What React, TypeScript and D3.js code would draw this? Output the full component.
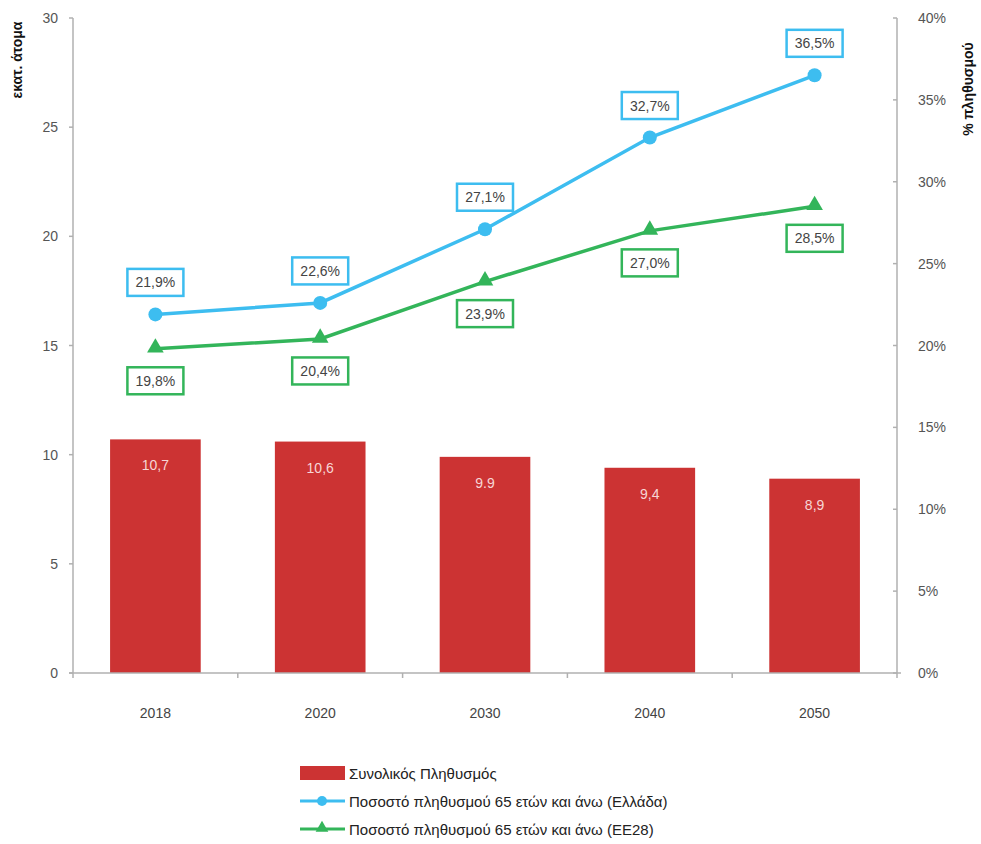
import React from "react";
import * as d3 from "d3";

const years = ["2018", "2020", "2030", "2040", "2050"];
const population = [10.7, 10.6, 9.9, 9.4, 8.9];
const populationLabels = ["10,7", "10,6", "9.9", "9,4", "8,9"];
const greece = [21.9, 22.6, 27.1, 32.7, 36.5];
const greeceLabels = ["21,9%", "22,6%", "27,1%", "32,7%", "36,5%"];
const eu28 = [19.8, 20.4, 23.9, 27.0, 28.5];
const eu28Labels = ["19,8%", "20,4%", "23,9%", "27,0%", "28,5%"];
const leftTicks = [0, 5, 10, 15, 20, 25, 30];
const rightTicks = [0, 5, 10, 15, 20, 25, 30, 35, 40];
const legendLabels = [
  "Συνολικός Πληθυσμός",
  "Ποσοστό πληθυσμού 65 ετών και άνω (Ελλάδα)",
  "Ποσοστό πληθυσμού 65 ετών και άνω (ΕΕ28)",
];

const W = 981;
const H = 844;
const M = { left: 73, right: 897, top: 18, bottom: 673 };
const FONT = "'Liberation Sans', Arial, sans-serif";
const RED = "#cc3333";
const BLUE = "#3dbdf0";
const GREEN = "#33b55a";
const AXIS = "#b0b0b0";

export default function App() {
  const x = d3.scaleBand<string>().domain(years).range([M.left, M.right]).paddingInner(0.45).paddingOuter(0.225);
  const xc = (i: number) => (x(years[i]) as number) + x.bandwidth() / 2;
  const yL = d3.scaleLinear().domain([0, 30]).range([M.bottom, M.top]);
  const yR = d3.scaleLinear().domain([0, 40]).range([M.bottom, M.top]);
  const step = (M.right - M.left) / years.length;

  const line = d3
    .line<number>()
    .x((_, i) => xc(i))
    .y((d) => yR(d));

  const tri = d3.symbol().type(d3.symbolTriangle).size(120)();
  const triSmall = d3.symbol().type(d3.symbolTriangle).size(70)();

  const boxW = 56;
  const boxH = 27;

  return (
    <div style={{ position: "absolute", left: 0, top: 0 }}>
      <svg width={W} height={H} style={{ display: "block", background: "#fff" }} fontFamily={FONT}>
        {/* bars */}
        {population.map((v, i) => (
          <g key={"b" + i}>
            <rect x={x(years[i])} y={yL(v)} width={x.bandwidth()} height={yL(0) - yL(v)} fill={RED} />
            <text x={xc(i)} y={yL(v) + 31} textAnchor="middle" fontSize={14} fill="#f7d6d6">
              {populationLabels[i]}
            </text>
          </g>
        ))}

        {/* left axis */}
        <line x1={M.left} x2={M.left} y1={M.top} y2={M.bottom} stroke={AXIS} strokeWidth={1.5} />
        {leftTicks.map((t) => (
          <g key={"l" + t}>
            <line x1={M.left - 4} x2={M.left} y1={yL(t)} y2={yL(t)} stroke={AXIS} strokeWidth={1.5} />
            <text x={M.left - 15} y={yL(t) + 5} textAnchor="end" fontSize={14} fill="#555">
              {t}
            </text>
          </g>
        ))}
        <text
          transform={`translate(22, 60) rotate(-90)`}
          textAnchor="middle"
          fontSize={14}
          fontWeight="bold"
          fill="#111"
        >
          εκατ. άτομα
        </text>

        {/* right axis */}
        <line x1={M.right} x2={M.right} y1={M.top} y2={M.bottom} stroke={AXIS} strokeWidth={1.5} />
        {rightTicks.map((t) => (
          <g key={"r" + t}>
            <line x1={M.right - 4} x2={M.right} y1={yR(t)} y2={yR(t)} stroke={AXIS} strokeWidth={1.5} />
            <text x={M.right + 21} y={yR(t) + 5} textAnchor="start" fontSize={14} fill="#555">
              {t}%
            </text>
          </g>
        ))}
        <text
          transform={`translate(973, 89) rotate(-90)`}
          textAnchor="middle"
          fontSize={14}
          fontWeight="bold"
          fill="#111"
        >
          % πληθυσμού
        </text>

        {/* bottom axis */}
        <line x1={M.left - 4} x2={M.right + 4} y1={M.bottom} y2={M.bottom} stroke={AXIS} strokeWidth={1.5} />
        {d3.range(years.length + 1).map((k) => (
          <line
            key={"bt" + k}
            x1={M.left + step * k}
            x2={M.left + step * k}
            y1={M.bottom}
            y2={M.bottom + 5}
            stroke={AXIS}
            strokeWidth={1.5}
          />
        ))}
        {years.map((yr, i) => (
          <text key={"yr" + i} x={xc(i)} y={718} textAnchor="middle" fontSize={14} fill="#444">
            {yr}
          </text>
        ))}

        {/* lines */}
        <path d={line(eu28) as string} fill="none" stroke={GREEN} strokeWidth={3.5} />
        <path d={line(greece) as string} fill="none" stroke={BLUE} strokeWidth={3.5} />
        {greece.map((v, i) => (
          <circle key={"gc" + i} cx={xc(i)} cy={yR(v)} r={7} fill={BLUE} />
        ))}
        {eu28.map((v, i) => (
          <path key={"et" + i} d={tri as string} transform={`translate(${xc(i)},${yR(v) - 1})`} fill={GREEN} />
        ))}

        {/* labels */}
        {greece.map((v, i) => {
          const cy = yR(v) - 32;
          return (
            <g key={"gl" + i}>
              <rect x={xc(i) - boxW / 2} y={cy - boxH / 2} width={boxW} height={boxH} fill="#fff" stroke={BLUE} strokeWidth={2.5} />
              <text x={xc(i)} y={cy + 5} textAnchor="middle" fontSize={14} fill="#444">
                {greeceLabels[i]}
              </text>
            </g>
          );
        })}
        {eu28.map((v, i) => {
          const cy = yR(v) + 32;
          return (
            <g key={"el" + i}>
              <rect x={xc(i) - boxW / 2} y={cy - boxH / 2} width={boxW} height={boxH} fill="#fff" stroke={GREEN} strokeWidth={2.5} />
              <text x={xc(i)} y={cy + 5} textAnchor="middle" fontSize={14} fill="#444">
                {eu28Labels[i]}
              </text>
            </g>
          );
        })}

        {/* legend */}
        <rect x={300} y={766} width={45} height={14} fill={RED} />
        <text x={349} y={779} fontSize={15} fill="#222">
          {legendLabels[0]}
        </text>
        <line x1={300} x2={345} y1={801} y2={801} stroke={BLUE} strokeWidth={3} />
        <circle cx={322} cy={801} r={5} fill={BLUE} />
        <text x={349} y={807} fontSize={15} fill="#222">
          {legendLabels[1]}
        </text>
        <line x1={300} x2={345} y1={829} y2={829} stroke={GREEN} strokeWidth={3} />
        <path d={triSmall as string} transform={`translate(322,828)`} fill={GREEN} />
        <text x={349} y={835} fontSize={15} fill="#222">
          {legendLabels[2]}
        </text>
      </svg>
    </div>
  );
}
